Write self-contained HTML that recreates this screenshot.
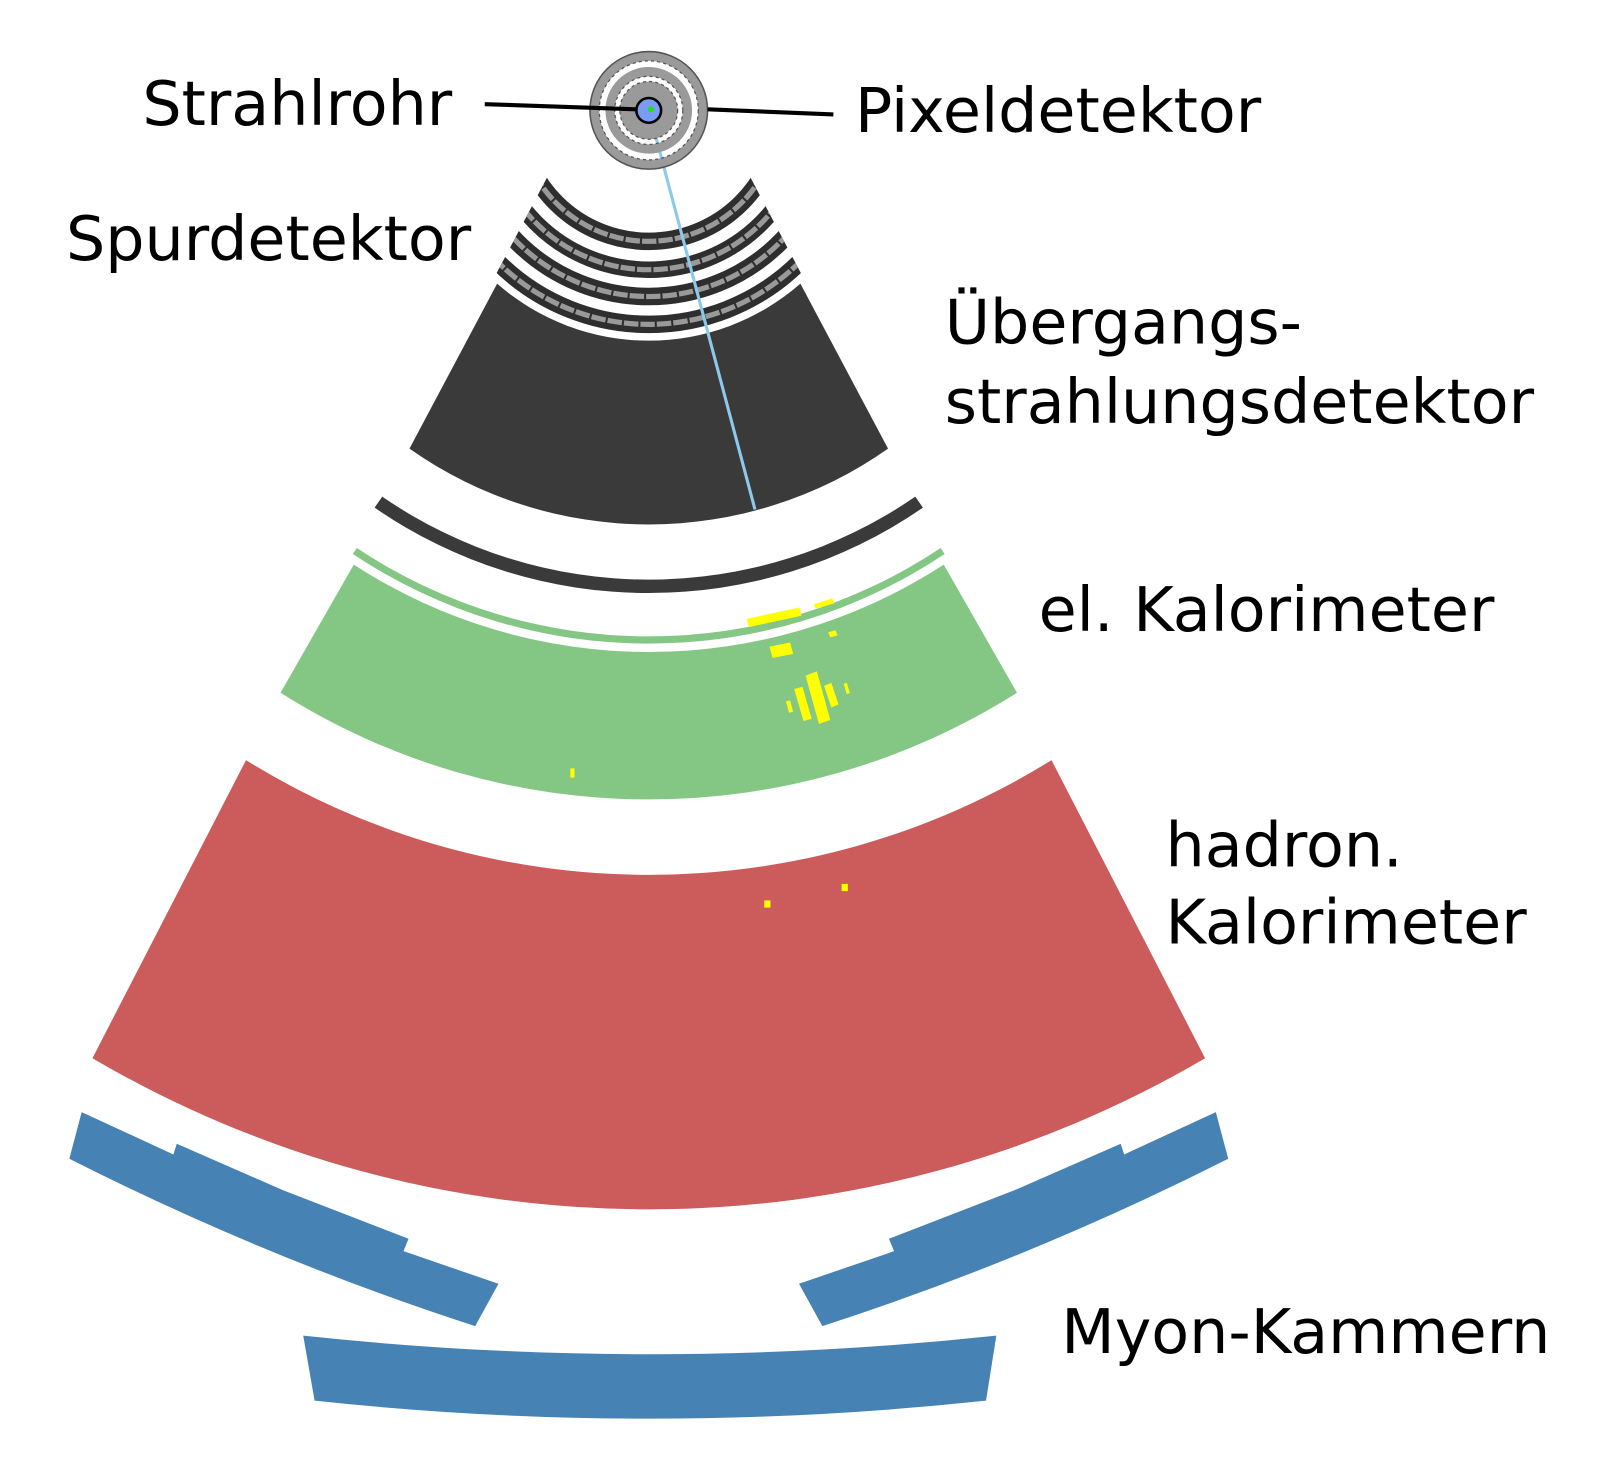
<!DOCTYPE html>
<html><head><meta charset="utf-8"><style>
html,body{margin:0;padding:0;background:#fff;}
svg{display:block;}
text{font-family:"DejaVu Sans","Liberation Sans",sans-serif;font-size:60px;fill:#000;}
</style></head><body>
<svg width="1609" height="1462" viewBox="0 0 1560 1417.5" preserveAspectRatio="none" xmlns="http://www.w3.org/2000/svg">
<defs>
<clipPath id="spc"><polygon points="536.8,160 721.2,160 816.2,340 441.8,340"/></clipPath>
</defs>
<path d="M238.5,737 A741,741 0 0 0 1019.5,737 L1168.4,1026 A1066,1066 0 0 1 89.6,1026 Z" fill="#cc5c5c"/>
<path d="M343,547.4 A525,525 0 0 0 915,547.4 L986,671.7 A668,668 0 0 1 272,671.7 Z" fill="#84c784"/>
<path d="M346,531.3 A510,510 0 0 0 912,531.3 L915.9,537.1 A517,517 0 0 1 342.1,537.1 Z" fill="#84c784"/>
<path d="M370.6,481.5 A455,455 0 0 0 887.4,481.5 L894.8,492.2 A468,468 0 0 1 363.2,492.2 Z" fill="#3a3a3a"/>
<path d="M482,275 A223,223 0 0 0 776,275 L861,435 A403,403 0 0 1 397,435 Z" fill="#3a3a3a"/>
<g clip-path="url(#spc)" fill="none">
<circle cx="629" cy="107" r="127" stroke="#2e2e2e" stroke-width="17"/>
<circle cx="629" cy="107" r="154.5" stroke="#2e2e2e" stroke-width="16"/>
<circle cx="629" cy="107" r="180.5" stroke="#2e2e2e" stroke-width="17"/>
<circle cx="629" cy="107" r="207.5" stroke="#2e2e2e" stroke-width="17"/>
<circle cx="629" cy="107" r="127" stroke="#999" stroke-width="5" stroke-dasharray="14 2"/>
<circle cx="629" cy="107" r="154.5" stroke="#999" stroke-width="5" stroke-dasharray="14 2"/>
<circle cx="629" cy="107" r="180.5" stroke="#999" stroke-width="5" stroke-dasharray="14 2"/>
<circle cx="629" cy="107" r="207.5" stroke="#999" stroke-width="5" stroke-dasharray="14 2"/>
</g>
<path d="M79.2,1078.3 L168.1,1119.3 L171.4,1108.9 L274.8,1154.2 L396.1,1201.1 L391.2,1213.1 L483.3,1244.7 L460.7,1285.8 Q258,1220 67.2,1123.5 Z" fill="#4682b4"/>
<path d="M1178.8,1078.3 L1089.9,1119.3 L1086.6,1108.9 L983.2,1154.2 L861.9,1201.1 L866.8,1213.1 L774.7,1244.7 L797.3,1285.8 Q1000,1220 1190.8,1123.5 Z" fill="#4682b4"/>
<path d="M294,1295 Q629,1331 966,1295 L956,1358 Q629,1393 305,1358 Z" fill="#4682b4"/>
<g fill="#ffff00">
<polygon points="724,600 775,589 777,597 726,608"/>
<polygon points="789,586 807,580 809,585 791,590"/>
<polygon points="746,627 766,623 769,634 749,638"/>
<polygon points="803,613 810,611 812,616 805,618"/>
<polygon points="762,680 766,679 769,690 765,691"/>
<polygon points="770,668 778,666 787,697 779,699"/>
<polygon points="781,655 792,651 805,698 794,702"/>
<polygon points="799,665 806,662 813,683 806,686"/>
<polygon points="818,663 821,662 824,672 821,673"/>
<rect x="553" y="745" width="4" height="9"/>
<rect x="741" y="873" width="6" height="7"/>
<rect x="816" y="857" width="6" height="7"/>
</g>
<line x1="629" y1="107" x2="732" y2="494" stroke="#8ec8ec" stroke-width="3"/>
<circle cx="629" cy="107" r="52.5" fill="none" stroke="#9a9a9a" stroke-width="9"/>
<circle cx="629" cy="107" r="57" fill="none" stroke="#555" stroke-width="1.5"/>
<circle cx="629" cy="107" r="37.5" fill="none" stroke="#9a9a9a" stroke-width="9"/>
<circle cx="629" cy="107" r="20.5" fill="none" stroke="#9a9a9a" stroke-width="15"/>
<circle cx="629" cy="107" r="48" fill="none" stroke="#555" stroke-width="1.2" stroke-dasharray="3 3"/>
<circle cx="629" cy="107" r="33" fill="none" stroke="#555" stroke-width="1.2" stroke-dasharray="3 3"/>
<circle cx="629" cy="107" r="28" fill="none" stroke="#555" stroke-width="1.2" stroke-dasharray="3 3"/>
<circle cx="629" cy="107" r="12" fill="#7a9cf2" stroke="#000" stroke-width="2.5"/>
<circle cx="631" cy="106" r="3" fill="#22dd22"/>
<line x1="470" y1="101" x2="617" y2="106" stroke="#000" stroke-width="4"/>
<line x1="686" y1="106" x2="808" y2="111" stroke="#000" stroke-width="4"/>
<text x="138" y="121">Strahlrohr</text>
<text x="829" y="128">Pixeldetektor</text>
<text x="64" y="252">Spurdetektor</text>
<text x="916" y="333">Übergangs-</text>
<text x="916" y="410">strahlungsdetektor</text>
<text x="1007" y="612">el. Kalorimeter</text>
<text x="1130" y="840">hadron.</text>
<text x="1130" y="915">Kalorimeter</text>
<text x="1029" y="1312">Myon-Kammern</text>
</svg>
</body></html>
